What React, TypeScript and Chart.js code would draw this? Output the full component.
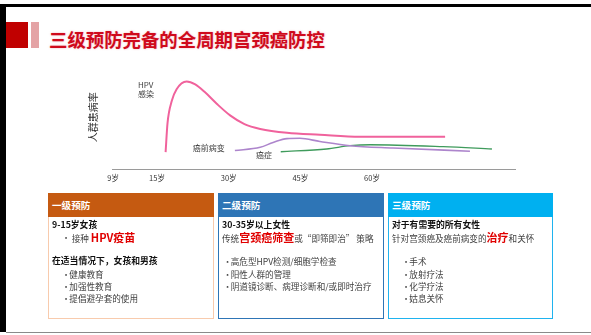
import React, { useEffect, useRef } from 'react';
import { Chart, registerables } from 'chart.js';

Chart.register(...registerables);

// Prevalence curves across a woman's life (relative units)
const hpvAges = [16.8, 17.2, 18.1, 19.1, 21.2, 23.0, 25.0, 27.5, 30.3, 33.3, 36.6, 42.2, 49.1, 57.5, 65.9, 75.3];
const hpvRates = [18, 48, 71, 83, 91, 88, 80, 68, 56, 47, 42, 38, 36, 34, 34, 34];
const precancerAges = [31.3, 36.6, 39.3, 42.2, 44.9, 49.1, 55.4, 64.4, 80.5];
const precancerRates = [19.7, 23, 28, 32, 32.3, 29, 24.7, 22.3, 19];
const cancerAges = [40.9, 50.5, 55.4, 59.6, 74.9, 85.1];
const cancerRates = [18.5, 21.3, 24.7, 25.7, 23.7, 21.3];

// Age ticks along the timeline
const axisTickPositions = [5.8, 15, 30, 45, 60];
const axisTickLabels = ['9岁', '15岁', '30岁', '45岁', '60岁'];

// Prevention tiers
const primaryItems = ['健康教育', '加强性教育', '提倡避孕套的使用'];
const secondaryItems = ['高危型HPV检测/细胞学检查', '阳性人群的管理', '阴道镜诊断、病理诊断和/或即时治疗'];
const tertiaryItems = ['手术', '放射疗法', '化学疗法', '姑息关怀'];

const FONT = '"Noto Sans CJK SC", "Noto Sans", sans-serif';

const toPoints = (xs: number[], ys: number[]) => xs.map((x, i) => ({ x, y: ys[i] }));

// Curve names written next to their lines, anchored in data units
const curveNames = {
  id: 'curveNames',
  afterDatasetsDraw(chart: any) {
    const { ctx, scales } = chart;
    const x = scales.x;
    const y = scales.y;
    const notes: { lines: string[]; age: number; rate: number }[] = [
      { lines: ['HPV', '感染'], age: 11.0, rate: 87 },
      { lines: ['癌前病变'], age: 22.5, rate: 22 },
      { lines: ['癌症'], age: 35.7, rate: 15 },
    ];
    ctx.save();
    ctx.font = `8px ${FONT}`;
    ctx.fillStyle = '#444';
    ctx.textBaseline = 'middle';
    ctx.textAlign = 'left';
    notes.forEach((n) => {
      n.lines.forEach((line, i) => {
        ctx.fillText(line, x.getPixelForValue(n.age), y.getPixelForValue(n.rate) + i * 9);
      });
    });
    ctx.restore();
  },
};

function LifeCourseChart() {
  const ref = useRef<HTMLCanvasElement | null>(null);
  useEffect(() => {
    if (!ref.current) return;
    const chart = new Chart(ref.current, {
      type: 'line',
      data: {
        datasets: [
          { label: 'HPV感染', data: toPoints(hpvAges, hpvRates), borderColor: '#f0629c', borderWidth: 2 },
          { label: '癌前病变', data: toPoints(precancerAges, precancerRates), borderColor: '#ad85cc', borderWidth: 1.6 },
          { label: '癌症', data: toPoints(cancerAges, cancerRates), borderColor: '#3f9b5c', borderWidth: 1.4 },
        ],
      },
      options: {
        animation: false,
        responsive: false,
        maintainAspectRatio: false,
        layout: { padding: { left: 7.3, right: 15, top: 5, bottom: 8.4 } },
        datasets: { line: { cubicInterpolationMode: 'monotone', pointRadius: 0, fill: false } },
        plugins: { legend: { display: false }, tooltip: { enabled: false } },
        scales: {
          x: {
            type: 'linear',
            min: 5.58,
            max: 89.93,
            grid: { display: false, drawTicks: false },
            border: { display: true, color: '#9a9a9a', width: 1, dash: [1.5, 1.5] },
            afterBuildTicks: (scale: any) => {
              scale.ticks = axisTickPositions.map((v) => ({ value: v }));
            },
            ticks: {
              autoSkip: false,
              maxRotation: 0,
              padding: 4,
              color: '#333',
              font: { size: 7.5, family: FONT },
              callback: (_v: any, i: number) => axisTickLabels[i],
            },
          },
          y: {
            min: 0,
            max: 108,
            grid: { display: false, drawTicks: false },
            border: { display: false },
            ticks: { display: false },
            title: {
              display: true,
              text: '人群患病率',
              color: '#333',
              font: { size: 10, family: FONT },
              padding: { top: 0, bottom: 12.7 },
            },
          },
        },
      } as any,
      plugins: [curveNames],
    });
    return () => chart.destroy();
  }, []);
  return (
    <canvas
      ref={ref}
      width={450}
      height={135}
      style={{ position: 'absolute', left: 80, top: 60, width: 450, height: 135 }}
    />
  );
}

const LINE = 12.2;

function Bullet({ text, bulletX, textX }: { text: string; bulletX: number; textX: number }) {
  return (
    <div style={{ position: 'relative', paddingLeft: textX, height: LINE, lineHeight: `${LINE}px`, whiteSpace: 'nowrap' }}>
      <span style={{ position: 'absolute', left: bulletX, top: 0 }}>•</span>
      {text}
    </div>
  );
}

function TierBox({
  left,
  width,
  head,
  border,
  title,
  children,
}: {
  left: number;
  width: number;
  head: string;
  border: string;
  title: string;
  children: React.ReactNode;
}) {
  return (
    <div style={{ position: 'absolute', left, top: 193, width, height: 126 }}>
      <div
        style={{
          position: 'absolute',
          left: 0,
          top: 0,
          right: 0,
          height: 24,
          background: head,
          color: '#fff',
          fontWeight: 700,
          fontSize: 9.6,
          lineHeight: '24px',
          paddingLeft: 4,
          boxSizing: 'border-box',
        }}
      >
        {title}
      </div>
      <div
        style={{
          position: 'absolute',
          left: 0,
          top: 24,
          right: 0,
          bottom: 0,
          border: `1.6px solid ${border}`,
          borderTop: 'none',
          boxSizing: 'border-box',
        }}
      />
      <div
        style={{
          position: 'absolute',
          left: 4,
          top: 25.9,
          right: 2,
          fontSize: 8.6,
          color: '#404040',
          lineHeight: `${LINE}px`,
        }}
      >
        {children}
      </div>
    </div>
  );
}

const boldLine: React.CSSProperties = { fontWeight: 700, color: '#111', fontSize: 8.8, height: LINE, whiteSpace: 'nowrap' };
const plainLine: React.CSSProperties = { height: LINE, whiteSpace: 'nowrap' };
const redWord: React.CSSProperties = { color: '#e00000', fontWeight: 700, fontSize: 11, lineHeight: `${LINE}px` };

export default function App() {
  return (
    <div
      style={{
        position: 'fixed',
        left: 0,
        top: 0,
        width: 591,
        height: 335,
        background: '#fff',
        overflow: 'hidden',
        fontFamily: FONT,
      }}
    >
      {/* frame */}
      <div style={{ position: 'absolute', left: 0, top: 4, width: 591, height: 3, background: '#000' }} />
      <div style={{ position: 'absolute', left: 0, top: 4, width: 6, height: 328, background: '#000' }} />
      <div style={{ position: 'absolute', left: 6, top: 331.5, width: 585, height: 1.5, background: '#8a8a8a' }} />

      {/* heading */}
      <div style={{ position: 'absolute', left: 6, top: 22, width: 22, height: 26, background: '#c00000' }} />
      <div style={{ position: 'absolute', left: 31, top: 22, width: 8, height: 26, background: '#e4a3a5' }} />
      <div
        style={{
          position: 'absolute',
          left: 49,
          top: 26,
          fontSize: 18.4,
          lineHeight: '26px',
          fontWeight: 700,
          color: '#cf0a1c',
          whiteSpace: 'nowrap',
          textShadow: '0 0 2px rgba(230,110,120,0.55)',
        }}
      >
        三级预防完备的全周期宫颈癌防控
      </div>

      <LifeCourseChart />

      <TierBox left={48} width={166} head="#c55a11" border="#f8cbad" title="一级预防">
        <div style={boldLine}>9-15岁女孩</div>
        <div style={{ ...plainLine, position: 'relative', paddingLeft: 19.7 }}>
          <span style={{ position: 'absolute', left: 9.7, top: 0 }}>•</span>
          接种 <span style={redWord}>HPV疫苗</span>
        </div>
        <div style={plainLine} />
        <div style={boldLine}>在适当情况下，女孩和男孩</div>
        {primaryItems.map((t) => (
          <Bullet key={t} text={t} bulletX={9.7} textX={17.3} />
        ))}
      </TierBox>

      <TierBox left={218} width={166} head="#2e75b6" border="#2e75b6" title="二级预防">
        <div style={boldLine}>30-35岁以上女性</div>
        <div style={plainLine}>
          传统<span style={redWord}>宫颈癌筛查</span>或“即筛即治” 策略
        </div>
        <div style={plainLine} />
        {secondaryItems.map((t) => (
          <Bullet key={t} text={t} bulletX={1.3} textX={8.7} />
        ))}
      </TierBox>

      <TierBox left={388} width={165} head="#00b0f0" border="#1fb3ef" title="三级预防">
        <div style={boldLine}>对于有需要的所有女性</div>
        <div style={plainLine}>
          针对宫颈癌及癌前病变的<span style={redWord}>治疗</span>和关怀
        </div>
        <div style={plainLine} />
        {tertiaryItems.map((t) => (
          <Bullet key={t} text={t} bulletX={9.7} textX={17.3} />
        ))}
      </TierBox>
    </div>
  );
}
